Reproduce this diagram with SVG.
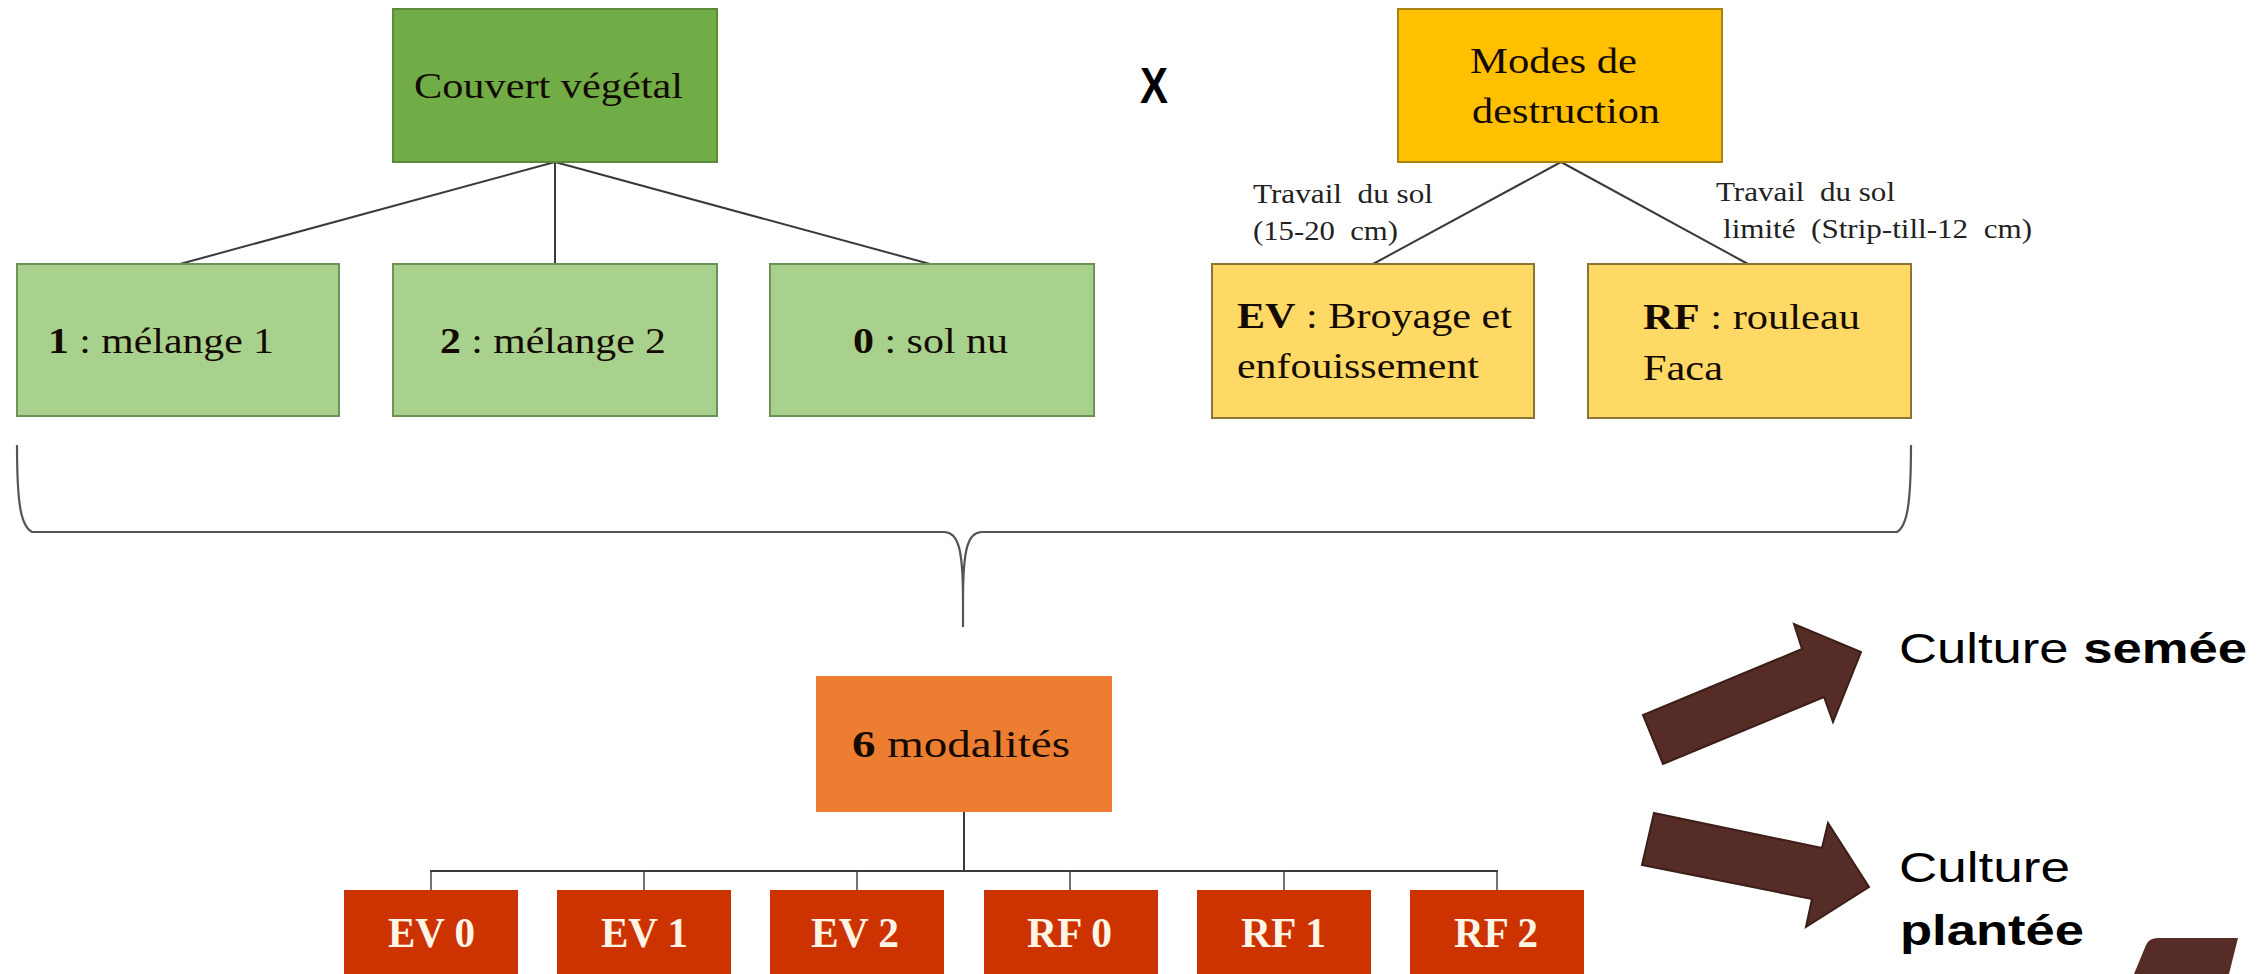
<svg xmlns="http://www.w3.org/2000/svg" width="2261" height="974" viewBox="0 0 2261 974">
<style>
.serif{font-family:"Liberation Serif","Times New Roman",serif;fill:#140a00;}
.sans{font-family:"Liberation Sans",Arial,sans-serif;fill:#000;}
.f36{font-size:36px}
.f38{font-size:38px}
.lbl{font-size:27px;fill:#222}
.b{font-weight:bold}
.ln{stroke:#3a3a3a;stroke-width:2;fill:none}
.thin{stroke:#444;stroke-width:1.5;fill:none}
.brace{stroke:#555;stroke-width:2.2;fill:none}
.top-green{fill:#70ad47;stroke:#5a8a3a;stroke-width:2}
.green{fill:#a9d18e;stroke:#6f8f5b;stroke-width:2}
.top-yellow{fill:#ffc000;stroke:#a88314;stroke-width:2}
.yellow{fill:#ffd966;stroke:#8a7436;stroke-width:2}
.orange{fill:#ed7d31}
.red{fill:#cc3300}
.ev{font-family:"Liberation Serif","Times New Roman",serif;font-size:42px;font-weight:bold;fill:#fff5e6}
.arrow{fill:#562d26;stroke:#3c1d18;stroke-width:2}
</style>
<rect x="0" y="0" width="2261" height="974" fill="#ffffff"/>

<g id="connectors">
  <line class="ln" x1="555" y1="162" x2="180" y2="264"/>
  <line class="ln" x1="555" y1="162" x2="555" y2="264"/>
  <line class="ln" x1="555" y1="162" x2="930" y2="264"/>
  <line class="ln" x1="1561" y1="162" x2="1373" y2="264"/>
  <line class="ln" x1="1561" y1="162" x2="1748" y2="264"/>
  <path class="brace" d="M17,445 C17,505 21,526 32,532 L945,532 C958,533 963,548 963,600 L963,627 M963,600 C963,548 968,533 981,532 L1897,532 C1907,526 1911,505 1911,445"/>
  <line class="ln" x1="964" y1="812" x2="964" y2="871"/>
  <line class="ln" x1="430" y1="871" x2="1498" y2="871"/>
  <g class="thin">
    <line x1="431" y1="871" x2="431" y2="890"/>
    <line x1="644" y1="871" x2="644" y2="890"/>
    <line x1="857" y1="871" x2="857" y2="890"/>
    <line x1="1070" y1="871" x2="1070" y2="890"/>
    <line x1="1284" y1="871" x2="1284" y2="890"/>
    <line x1="1497" y1="871" x2="1497" y2="890"/>
  </g>
</g>

<g id="couvert">
  <rect class="top-green" x="393" y="9" width="324" height="153"/>
  <text class="serif f36" x="414" y="98" textLength="269" lengthAdjust="spacingAndGlyphs">Couvert végétal</text>
</g>
<g id="x-sign">
  <text class="sans b" x="1140" y="103" font-size="50" textLength="28" lengthAdjust="spacingAndGlyphs">X</text>
</g>
<g id="modes">
  <rect class="top-yellow" x="1398" y="9" width="324" height="153"/>
  <text class="serif f36" x="1470" y="73" textLength="167" lengthAdjust="spacingAndGlyphs">Modes de</text>
  <text class="serif f36" x="1472" y="123" textLength="188" lengthAdjust="spacingAndGlyphs">destruction</text>
</g>
<g id="label-ev">
  <text class="serif lbl" x="1253" y="203" textLength="180" lengthAdjust="spacingAndGlyphs" xml:space="preserve">Travail  du sol</text>
  <text class="serif lbl" x="1253" y="240" textLength="145" lengthAdjust="spacingAndGlyphs" xml:space="preserve">(15-20  cm)</text>
</g>
<g id="label-rf">
  <text class="serif lbl" x="1716" y="201" textLength="179" lengthAdjust="spacingAndGlyphs" xml:space="preserve">Travail  du sol</text>
  <text class="serif lbl" x="1723" y="238" textLength="309" lengthAdjust="spacingAndGlyphs" xml:space="preserve">limité  (Strip-till-12  cm)</text>
</g>
<g id="melange1">
  <rect class="green" x="17" y="264" width="322" height="152"/>
  <text class="serif f36" x="48" y="353" textLength="226" lengthAdjust="spacingAndGlyphs"><tspan class="b">1</tspan> : mélange 1</text>
</g>
<g id="melange2">
  <rect class="green" x="393" y="264" width="324" height="152"/>
  <text class="serif f36" x="440" y="353" textLength="226" lengthAdjust="spacingAndGlyphs"><tspan class="b">2</tspan> : mélange 2</text>
</g>
<g id="solnu">
  <rect class="green" x="770" y="264" width="324" height="152"/>
  <text class="serif f36" x="853" y="353" textLength="155" lengthAdjust="spacingAndGlyphs"><tspan class="b">0</tspan> : sol nu</text>
</g>
<g id="ev">
  <rect class="yellow" x="1212" y="264" width="322" height="154"/>
  <text class="serif f36" x="1237" y="328" textLength="275" lengthAdjust="spacingAndGlyphs"><tspan class="b">EV</tspan> : Broyage et</text>
  <text class="serif f36" x="1237" y="378" textLength="242" lengthAdjust="spacingAndGlyphs">enfouissement</text>
</g>
<g id="rf">
  <rect class="yellow" x="1588" y="264" width="323" height="154"/>
  <text class="serif f36" x="1643" y="329" textLength="217" lengthAdjust="spacingAndGlyphs"><tspan class="b">RF</tspan> : rouleau</text>
  <text class="serif f36" x="1643" y="380" textLength="80" lengthAdjust="spacingAndGlyphs">Faca</text>
</g>
<g id="modalites">
  <rect class="orange" x="816" y="676" width="296" height="136"/>
  <text class="serif f38" x="852" y="757" textLength="218" lengthAdjust="spacingAndGlyphs"><tspan class="b">6</tspan> modalités</text>
</g>
<g id="ev0"><rect class="red" x="344" y="890" width="174" height="90"/><text class="ev" x="388" y="947" textLength="87" lengthAdjust="spacingAndGlyphs">EV 0</text></g>
<g id="ev1"><rect class="red" x="557" y="890" width="174" height="90"/><text class="ev" x="601" y="947" textLength="87" lengthAdjust="spacingAndGlyphs">EV 1</text></g>
<g id="ev2"><rect class="red" x="770" y="890" width="174" height="90"/><text class="ev" x="811" y="947" textLength="88" lengthAdjust="spacingAndGlyphs">EV 2</text></g>
<g id="rf0"><rect class="red" x="984" y="890" width="174" height="90"/><text class="ev" x="1027" y="947" textLength="85" lengthAdjust="spacingAndGlyphs">RF 0</text></g>
<g id="rf1"><rect class="red" x="1197" y="890" width="174" height="90"/><text class="ev" x="1241" y="947" textLength="85" lengthAdjust="spacingAndGlyphs">RF 1</text></g>
<g id="rf2"><rect class="red" x="1410" y="890" width="174" height="90"/><text class="ev" x="1454" y="947" textLength="84" lengthAdjust="spacingAndGlyphs">RF 2</text></g>

<g id="arrow-semee">
  <path class="arrow" d="M1663,764 L1643,715 L1802,649 L1794,624 L1861,652 L1833,722 L1824,697 Z"/>
</g>
<g id="arrow-plantee">
  <path class="arrow" d="M1654,813 L1822,848 L1828,823 L1869,887 L1806,927 L1812,899 L1642,865 Z"/>
</g>
<g id="culture-semee">
  <text class="sans" x="1899" y="663" font-size="43" textLength="348" lengthAdjust="spacingAndGlyphs">Culture <tspan class="b">semée</tspan></text>
</g>
<g id="culture-plantee">
  <text class="sans" x="1899" y="882" font-size="43" textLength="171" lengthAdjust="spacingAndGlyphs">Culture</text>
  <text class="sans b" x="1900" y="945" font-size="43" textLength="184" lengthAdjust="spacingAndGlyphs">plantée</text>
</g>
<g id="corner-shape">
  <path fill="#562d26" d="M2158,938 L2238,938 L2229,974 L2134,974 L2146,945 Q2149,938 2158,938 Z"/>
</g>
</svg>
